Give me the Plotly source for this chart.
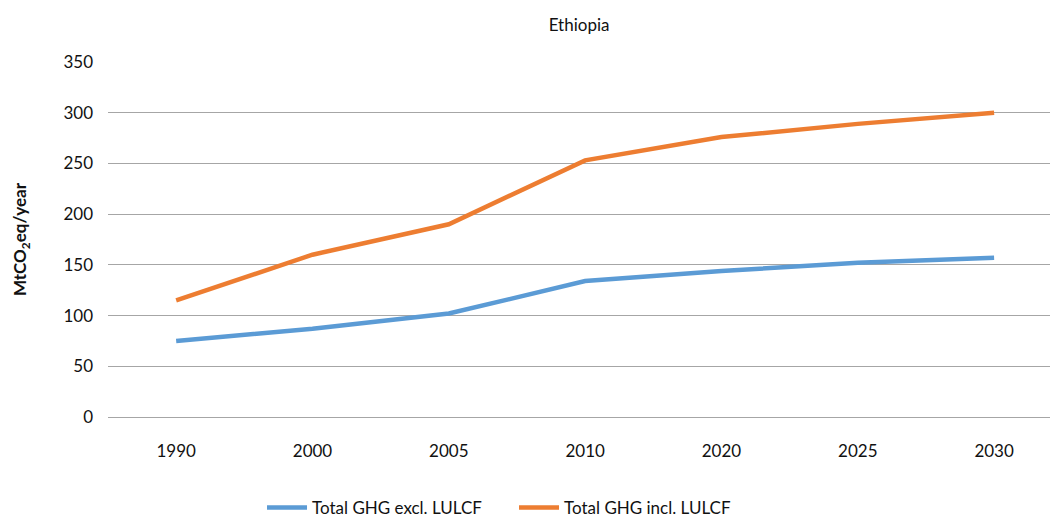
import plotly.graph_objects as go

years = ["1990", "2000", "2005", "2010", "2020", "2025", "2030"]
excl_lulcf = [75, 87, 102, 134, 144, 152, 157]
incl_lulcf = [115, 160, 190, 253, 276, 289, 300]
y_ticks = [0, 50, 100, 150, 200, 250, 300, 350]

FONT = "Lato"
FS = 17

fig = go.Figure()
fig.add_trace(go.Scatter(x=years, y=excl_lulcf, mode="lines", name="Total GHG excl. LULCF",
                         line=dict(color="#5B9BD5", width=4.5)))
fig.add_trace(go.Scatter(x=years, y=incl_lulcf, mode="lines", name="Total GHG incl. LULCF",
                         line=dict(color="#ED7D31", width=4.5)))

fig.update_layout(
    width=1050, height=517,
    margin=dict(l=108, r=0, t=62, b=100, autoexpand=False),
    paper_bgcolor="white", plot_bgcolor="white",
    font=dict(family=FONT, size=FS, color="#111111"),
    title=dict(text="Ethiopia", x=0.5515, xanchor="center", y=0.952, yanchor="middle",
               font=dict(family=FONT, size=FS, color="#111111")),
    xaxis=dict(type="category", range=[-0.5, 6.41], showgrid=False, showline=False,
               ticks="", ticklabelstandoff=22, tickfont=dict(size=FS)),
    yaxis=dict(range=[0, 350], tickvals=y_ticks, showgrid=True, gridcolor="#A6A6A6",
               gridwidth=1, zeroline=True, zerolinecolor="#A6A6A6", zerolinewidth=1,
               showline=False, ticks="", ticklabelstandoff=14, tickfont=dict(size=FS),
               title=dict(text="<b>MtCO<sub>2</sub>eq/year</b>", standoff=32,
                          font=dict(size=FS))),
    legend=dict(orientation="h", x=0.1635, xanchor="left", y=-0.2563, yanchor="middle",
                font=dict(size=FS), itemwidth=40, entrywidth=197, entrywidthmode="pixels",
                bgcolor="rgba(0,0,0,0)", borderwidth=0),
    showlegend=True,
)

fig.write_html("out.html")
